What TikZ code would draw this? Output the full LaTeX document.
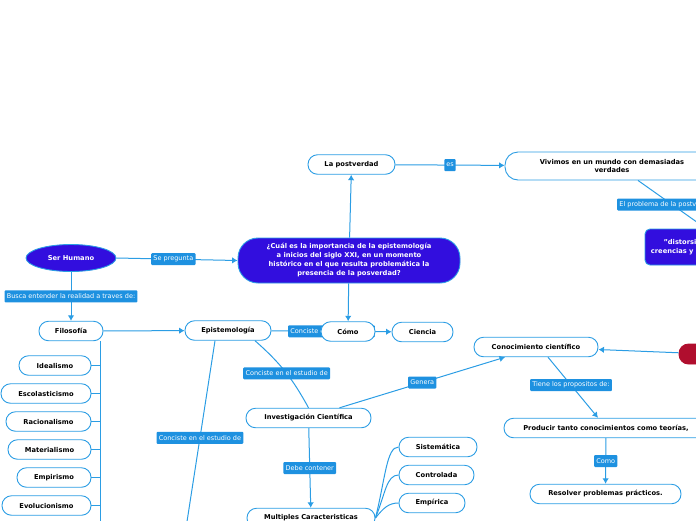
\documentclass[tikz,border=0pt]{standalone}
\usepackage{fontspec}
\setmainfont{DejaVu Sans}
\usetikzlibrary{shapes.geometric,arrows.meta,backgrounds}
\definecolor{lb}{RGB}{43,157,228}
\definecolor{lab}{RGB}{30,145,224}
\definecolor{pur}{RGB}{50,14,222}
\definecolor{redn}{RGB}{176,14,46}
\begin{document}
\begin{tikzpicture}[x=1pt,y=-1pt,
 box/.style={draw=lb,line width=0.9pt,fill=white,rounded corners=9.5pt,minimum height=19.5pt,inner sep=0pt,font=\fontsize{6.7}{8.5}\selectfont\bfseries,text=black,align=center},
 pbox/.style={box,fill=pur,text=white},
 lbl/.style={fill=lab,text=white,font=\fontsize{6.5}{7}\selectfont,inner sep=2.3pt,minimum height=12pt,rounded corners=1pt},
 conn/.style={draw=lb,line width=1pt},
 arr/.style={conn,-{Latex[length=5.5pt,width=6.5pt]}},
]
\useasboundingbox (0,0) rectangle (696,520);
\clip (0,0) rectangle (696,520);

% nodes
\node[draw=lb,line width=0.9pt,fill=pur,ellipse,minimum width=90pt,minimum height=27pt,inner sep=0pt,text=white,font=\fontsize{6.7}{8}\selectfont\bfseries] (ser) at (71,258) {Ser Humano};
\node[pbox,minimum width=222pt,minimum height=45pt,rounded corners=20pt,font=\fontsize{6.7}{9}\selectfont\bfseries] (q) at (349,260.5) {¿Cuál es la importancia de la epistemología\\a inicios del siglo XXI, en un momento\\histórico en el que resulta problemática la\\presencia de la posverdad?};
\node[box,minimum width=87pt] (post) at (351.5,164.5) {La postverdad};
\node[box,minimum width=214pt,minimum height=28pt,rounded corners=13pt] (viv) at (612,166) {Vivimos en un mundo con demasiadas\\verdades};
\node[pbox,minimum width=122pt,minimum height=36pt,rounded corners=5pt] (dis) at (706,247) {"distorsión deliberada\\creencias y emociones con el};
\node[box,fill=redn,draw=redn,text=white,minimum width=60pt,minimum height=20pt] (red) at (709,354) {};
\node[box,minimum width=64pt] (fil) at (71,331) {Filosofía};
\node[box,minimum width=86pt] (epi) at (228,330.5) {Epistemología};
\node[box,minimum width=61pt] (cie) at (422.5,332) {Ciencia};
\node[box,minimum width=54pt] (como) at (348,331.5) {Cómo};
\node[box,minimum width=125pt] (inv) at (308.5,418) {Investigación Científica};
\node[box,minimum width=128pt] (mul) at (311,518) {Multiples Caracteristicas};
\node[box,minimum width=78pt] (sis) at (438,447) {Sistemática};
\node[box,minimum width=75pt] (con) at (436.5,475) {Controlada};
\node[box,minimum width=66pt] (emp) at (432,503) {Empírica};
\node[box,minimum width=124pt] (cc) at (536,347) {Conocimiento científico};
\node[box,minimum width=204pt] (pro) at (606,428) {Producir tanto conocimientos como teorías,};
\node[box,minimum width=151pt] (res) at (605.5,494) {Resolver problemas prácticos.};
\node[box,minimum width=72pt] (ide) at (55,365.5) {Idealismo};
\node[box,minimum width=90pt] (esc) at (46,393.5) {Escolasticismo};
\node[box,minimum width=85pt] (rac) at (48.5,421.5) {Racionalismo};
\node[box,minimum width=83pt] (mat) at (49.5,449.5) {Materialismo};
\node[box,minimum width=74pt] (emr) at (54,477.5) {Empirismo};
\node[box,minimum width=89pt] (evo) at (46.5,505.5) {Evolucionismo};

% connectors
\draw[arr] (ser.east) -- node[lbl,pos=0.47]{Se pregunta} (q.west);
\draw[arr] (ser) -- node[lbl]{Busca entender la realidad a traves de:} (fil);
\draw[arr] (fil) -- (epi);
\draw[arr] (q) -- (post);
\draw[arr] (post) -- node[lbl,inner sep=2pt]{es} (viv);
\draw[arr] (q) -- (como);
\begin{pgfonlayer}{background}
\draw[arr] (epi) -- node[lbl]{Conciste en el estudio de} (cie);
\end{pgfonlayer}
\draw[conn] ([xshift=26pt]viv.south) -- node[lbl]{El problema de la postverdad es} (dis.north);
\draw[arr] (red) -- (cc);
\draw[arr] ([xshift=31pt]inv.north) -- node[lbl]{Genera} ([xshift=-31pt]cc.south);
\draw[arr] ([xshift=12pt]cc.south) -- node[lbl,pos=0.46]{Tiene los propositos de:} ([xshift=-8pt]pro.north);
\draw[arr] (pro) -- node[lbl]{Como} (res);
\draw[conn] ([xshift=27pt]epi.south) to[bend left=10] node[lbl,pos=0.53]{Conciste en el estudio de} (inv.north);
\coordinate (off) at (184,541);
\draw[conn] ([xshift=-13pt]epi.south) -- node[lbl,pos=0.485]{Conciste en el estudio de} (off);
\draw[arr] (inv) -- node[lbl]{Debe contener} (mul);
\draw[conn] (mul.east) .. controls +(10,-40) and +(-12,0) .. (sis.west);
\draw[conn] (mul.east) .. controls +(10,-25) and +(-12,0) .. (con.west);
\draw[conn] (mul.east) .. controls +(8,-10) and +(-10,0) .. (emp.west);
\coordinate (fl) at ([xshift=29pt]fil.south);
\draw[conn] (fl) -- ++(0,190);
\foreach \n in {ide,esc,rac,mat,emr,evo}{\draw[conn] (\n.east) -- (\n.east -| fl);}
\end{tikzpicture}
\end{document}
